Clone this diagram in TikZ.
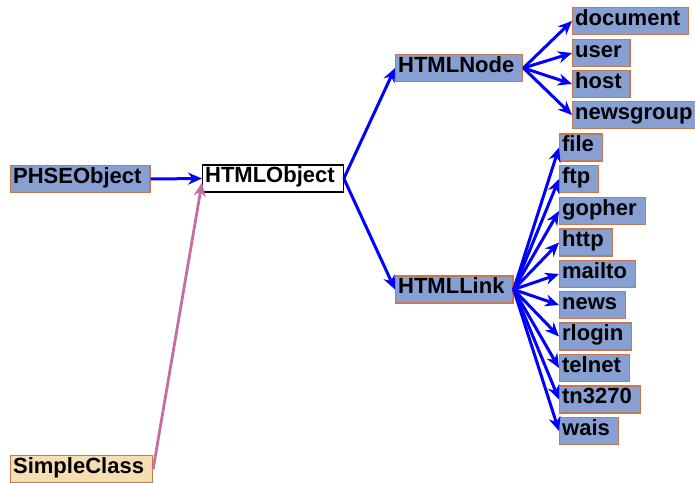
\documentclass[tikz,border=0pt]{standalone}
\usepackage{fontspec}
\setmainfont{Liberation Sans}
\definecolor{clsfill}{RGB}{135,160,212}
\definecolor{clsline}{RGB}{200,120,80}
\definecolor{extfill}{RGB}{246,222,178}
\definecolor{usepink}{RGB}{196,110,160}
\usetikzlibrary{arrows.meta}

\begin{document}
\begin{tikzpicture}[x=1pt,y=-1pt]
  \tikzstyle{cls}     = [anchor=west,draw=clsline,line width=1.3pt,fill=clsfill,
                         font=\fontsize{22}{24}\selectfont\bfseries,
                         text height=15.5pt,text depth=7pt,inner xsep=2.5pt,inner ysep=2.3pt,
                         execute at end node={\kern6pt}]
  \tikzstyle{clsroot} = [cls,draw=black,fill=white]
  \tikzstyle{clsext}  = [cls,fill=extfill]
  \tikzstyle{inh}     = [-{Stealth[length=14pt,width=12pt]},draw=blue,line width=3pt]
  \tikzstyle{uses}    = [-{Stealth[length=14pt,width=12pt]},draw=usepink,line width=2.8pt]
  \useasboundingbox (0,0) rectangle (695,482);
  % class boxes
  \path (10,179)    node[cls](phse)      {PHSEObject};
  \path (202,178.5) node[clsroot](hobj)  {HTMLObject};
  \path (10,469)    node[clsext](simple) {SimpleClass};
  \path (395,68)    node[cls](hnode)     {HTMLNode};
  \path (395,289.5) node[cls](hlink)     {HTMLLink};
  % HTMLNode subclasses
  \path (572,21)  node[cls](document)  {document};
  \path (572,53)  node[cls](user)      {user};
  \path (572,84)  node[cls](host)      {host};
  \path (572,115) node[cls](newsgroup) {newsgroup};
  % HTMLLink subclasses
  \path (559,147.5) node[cls](file)   {file};
  \path (559,179)   node[cls](ftp)    {ftp};
  \path (559,211)   node[cls](gopher) {gopher};
  \path (559,242.5) node[cls](http)   {http};
  \path (559,274)   node[cls](mailto) {mailto};
  \path (559,305)   node[cls](news)   {news};
  \path (559,336.5) node[cls](rlogin) {rlogin};
  \path (559,368)   node[cls](telnet) {telnet};
  \path (559,399.5) node[cls](tn)     {tn3270};
  \path (559,431)   node[cls](wais)   {wais};
  % inheritance arrows
  \draw[inh] (phse.east) -- (hobj.west);
  \draw[inh] (hobj.east) -- (hnode.west);
  \draw[inh] (hobj.east) -- (hlink.west);
  \foreach \c in {document,user,host,newsgroup}
    \draw[inh] (hnode.east) -- (\c.west);
  \foreach \c in {file,ftp,gopher,http,mailto,news,rlogin,telnet,tn,wais}
    \draw[inh] (hlink.east) -- (\c.west);
  \draw[uses] (simple.east) -- ([yshift=-4pt]hobj.west);
\end{tikzpicture}
\end{document}
